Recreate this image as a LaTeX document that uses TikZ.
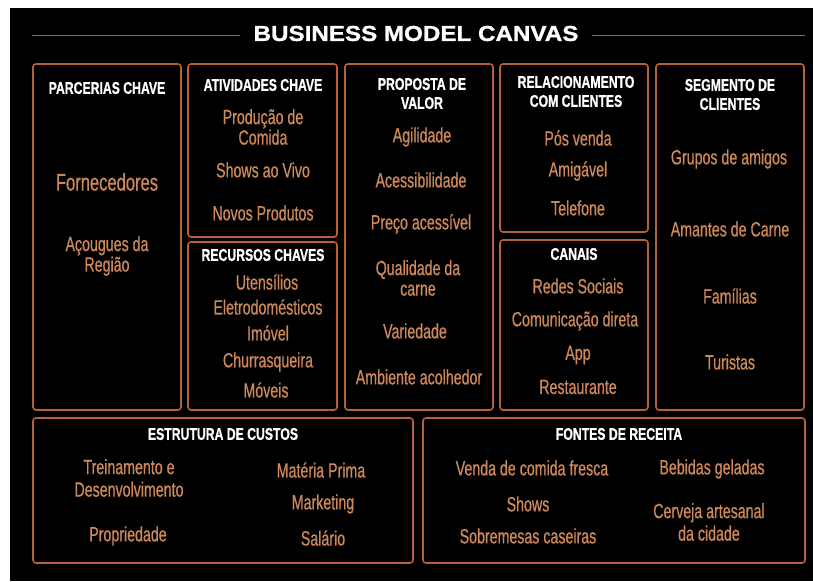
\documentclass[tikz,border=0pt]{standalone}
\usepackage{fontspec}
\setmainfont[FakeStretch=0.72, FakeBold=0.8]{Liberation Sans}
\newfontfamily\itemfont[FakeStretch=0.69, FakeBold=0.6]{Liberation Sans}
\newfontfamily\titlefont[FakeStretch=1.12, FakeBold=1.2]{Liberation Sans}
\definecolor{copper}{RGB}{182,96,56}
\definecolor{itemtan}{RGB}{206,136,90}

\tikzset{
  block/.style={draw=copper, line width=1.6pt, rounded corners=3pt, inner sep=0pt},
  hdr/.style={text=white, font=\bfseries\fontsize{17}{19}\selectfont, align=center},
  item/.style={text=itemtan, font=\itemfont\fontsize{20.6}{20.5}\selectfont, align=center},
  bigitem/.style={item, font=\itemfont\fontsize{24}{24}\selectfont},
  rule/.style={draw=copper, line width=1.3pt}
}

\begin{document}
\begin{tikzpicture}[x=1pt, y=-1pt]

     % canvas
     \useasboundingbox (0,0) rectangle (813,581);
     \fill[black] (10,8) rectangle (813,581);

     % title
     \node[text=white, font=\titlefont\bfseries\fontsize{21.6}{24}\selectfont, inner xsep=13pt] (title) at (416,33.5) {BUSINESS MODEL CANVAS};%
     \coordinate (ruleL) at (32,35.5);
     \coordinate (ruleR) at (805,35.5);
     \draw[rule] (ruleL) -- (ruleL -| title.west);
     \draw[rule] (ruleR -| title.east) -- (ruleR);

     % blocks
     \node[block, minimum width=148pt, minimum height=346pt] (pc) at (107,237) {};%
     \node[block, minimum width=149pt, minimum height=173pt] (ak) at (262.5,150.5) {};%
     \node[block, minimum width=149pt, minimum height=168pt] (rk) at (262.5,326) {};%
     \node[block, minimum width=148pt, minimum height=346pt] (pv) at (419,237) {};%
     \node[block, minimum width=148pt, minimum height=168pt] (rc) at (574,148) {};%
     \node[block, minimum width=148pt, minimum height=170pt] (cn) at (574,325) {};%
     \node[block, minimum width=148pt, minimum height=346pt] (sc) at (730,237) {};%
     \node[block, minimum width=380pt, minimum height=145pt] (ec) at (223,490.5) {};%
     \node[block, minimum width=382pt, minimum height=145pt] (fr) at (614,490.5) {};%

     % headers
     \node[hdr] (pcH) at (107,88) {PARCERIAS CHAVE};%
     \node[hdr] (akH) at (263,85) {ATIVIDADES CHAVE};%
     \node[hdr] (rkH) at (263,255) {RECURSOS CHAVES};%
     \node[hdr] (pvH) at (422,93.5) {PROPOSTA DE\\VALOR};%
     \node[hdr] (rcH) at (576,91.5) {RELACIONAMENTO\\COM CLIENTES};%
     \node[hdr] (cnH) at (574,254) {CANAIS};%
     \node[hdr] (scH) at (730,94.5) {SEGMENTO DE\\CLIENTES};%
     \node[hdr] (ecH) at (223,434) {ESTRUTURA DE CUSTOS};%
     \node[hdr] (frH) at (619,434) {FONTES DE RECEITA};%

     % parcerias chave
     \node[bigitem] (forn) at (107,182) {Fornecedores};%
     \node[item] (acou) at (107,256) {Açougues da\\Região};%

     % atividades chave
     \node[item] (prod) at (263,127) {Produção de\\Comida};%
     \node[item] (vivo) at (263,170) {Shows ao Vivo};%
     \node[item] (novo) at (263,213) {Novos Produtos};%

     % recursos chaves
     \node[item] (uten) at (267,282) {Utensílios};%
     \node[item] (elet) at (268,307) {Eletrodomésticos};%
     \node[item] (imov) at (268,333) {Imóvel};%
     \node[item] (chur) at (268,362) {Churrasqueira};%
     \node[item] (move) at (266,390) {Móveis};%

     % proposta de valor
     \node[item] (agil) at (422,137) {Agilidade};%
     \node[item] (aces) at (421,180) {Acessibilidade};%
     \node[item] (prec) at (421,224) {Preço acessível};%
     \node[item] (qual) at (418,278) {Qualidade da\\carne};%
     \node[item] (vari) at (415,331) {Variedade};%
     \node[item] (ambi) at (419,377) {Ambiente acolhedor};%

     % relacionamento
     \node[item] (posv) at (578,138) {Pós venda};%
     \node[item] (amig) at (578,171) {Amigável};%
     \node[item] (tele) at (578,208) {Telefone};%

     % canais
     \node[item] (rede) at (578,286) {Redes Sociais};%
     \node[item] (comu) at (575,321) {Comunicação direta};%
     \node[item] (app) at (578,355) {App};%
     \node[item] (rest) at (578,387) {Restaurante};%

     % segmento de clientes
     \node[item] (grup) at (729,159) {Grupos de amigos};%
     \node[item] (aman) at (730,229) {Amantes de Carne};%
     \node[item] (fami) at (730,296) {Famílias};%
     \node[item] (turi) at (730,362) {Turistas};%

     % estrutura de custos
     \node[item] (trei) at (129,478) {Treinamento e\\[2pt]Desenvolvimento};%
     \node[item] (prop) at (128,536) {Propriedade};%
     \node[item] (mate) at (321,470) {Matéria Prima};%
     \node[item] (mark) at (323,504) {Marketing};%
     \node[item] (sala) at (323,538) {Salário};%

     % fontes de receita
     \node[item] (vend) at (532,468) {Venda de comida fresca};%
     \node[item] (show) at (528,504) {Shows};%
     \node[item] (sobr) at (528,536) {Sobremesas caseiras};%
     \node[item] (bebi) at (712,469) {Bebidas geladas};%
     \node[item] (cerv) at (709,522) {Cerveja artesanal\\[2pt]da cidade};%

\end{tikzpicture}
\end{document}
